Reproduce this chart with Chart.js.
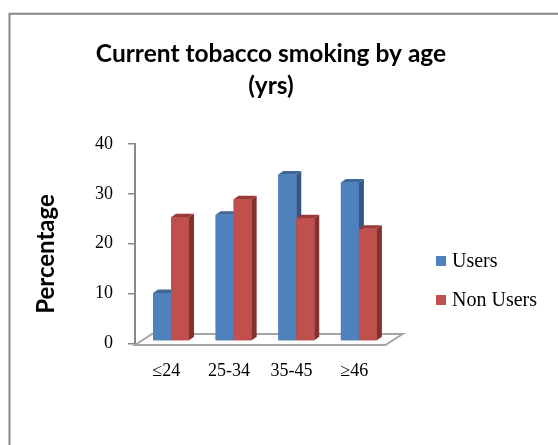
<!DOCTYPE html>
<html>
<head>
<meta charset="utf-8">
<title>Current tobacco smoking by age</title>
<script src="https://cdn.jsdelivr.net/npm/chart.js@4.4.1/dist/chart.umd.min.js"></script>
<style>
body{margin:0;background:#fff;}
#wrap{width:558px;height:445px;}
</style>
</head>
<body>
<div id="wrap"><canvas id="smokeChart" width="558" height="445"></canvas></div>
<script>
/* data */
const ageGroups = ["≤24","25-34","35-45","≥46"];
const users = [9.6,25.3,33.4,31.8];
const nonUsers = [24.8,28.4,24.6,22.5];
const yTicks = [0,10,20,30,40];
const seriesNames = ["Users","Non Users"];
const titleLines = ["Current tobacco smoking by age","(yrs)"];
const yTitle = "Percentage";

/* colours: front, side, top */
const faces = [
{front:"#4f81bd", side:"#34578a", top:"#3f6797"},
{front:"#c0504d", side:"#83302e", top:"#9c3a37"}
];

/* the bar row sits a little behind the front edge of the floor */
const ROW_X = 4.7, ROW_Y = -2.5;
/* depth of each bar */
const DEP_X = 5, DEP_Y = -3.5;
/* depth of the floor */
const FLOOR_X = 17, FLOOR_Y = -11;

const gray = "#878787";

function poly(ctx, pts){
ctx.beginPath();
ctx.moveTo(pts[0][0],pts[0][1]);
for(let i=1;i<pts.length;i++) ctx.lineTo(pts[i][0],pts[i][1]);
ctx.closePath();
}

const bars3d = {
id:"bars3d",

beforeDraw(chart){
const ctx = chart.ctx;
ctx.save();
ctx.fillStyle="#fff";
ctx.fillRect(0,0,chart.width,chart.height);
/* frame round the chart */
ctx.strokeStyle=gray;
ctx.lineWidth=2;
ctx.beginPath();
ctx.moveTo(9.5,chart.height);
ctx.lineTo(9.5,13.7);
ctx.lineTo(chart.width,13.7);
ctx.stroke();
ctx.restore();
},

beforeDatasetsDraw(chart){
/* floor */
const ctx = chart.ctx;
const a = chart.chartArea;
const fy = a.bottom+1.5;
ctx.save();
ctx.strokeStyle="#a5a5a5";
ctx.lineWidth=2;
ctx.fillStyle="#fff";
poly(ctx,[[a.left,fy],[a.right,fy],[a.right+FLOOR_X,fy+FLOOR_Y],[a.left+FLOOR_X,fy+FLOOR_Y]]);
ctx.fill();
ctx.stroke();
ctx.restore();
},

beforeDatasetDraw(chart){
chart.ctx.save();
chart.ctx.translate(ROW_X,ROW_Y);
},

afterDatasetDraw(chart){
chart.ctx.restore();
},

/* boxes go back to front, left to right, so each one hides the side of the one before */
afterDatasetsDraw(chart){
const ctx = chart.ctx;
ctx.save();
ctx.translate(ROW_X,ROW_Y);
const metas = chart.data.datasets.map((ds,i)=>chart.getDatasetMeta(i));
chart.data.labels.forEach((lab,j)=>{
metas.forEach((meta,i)=>{
const f = faces[i];
const p = meta.data[j].getProps(["x","y","base","width"],true);
const l = p.x-p.width/2, r = p.x+p.width/2;
ctx.fillStyle=f.front;
ctx.fillRect(l,p.y,p.width,p.base-p.y);
ctx.fillStyle=f.side;
poly(ctx,[[r,p.y],[r+DEP_X,p.y+DEP_Y],[r+DEP_X,p.base+DEP_Y],[r,p.base]]);
ctx.fill();
ctx.fillStyle=f.top;
poly(ctx,[[l,p.y],[l+DEP_X,p.y+DEP_Y],[r+DEP_X,p.y+DEP_Y],[r,p.y]]);
ctx.fill();
});
});
ctx.restore();
},

afterDraw(chart){
const ctx = chart.ctx;
ctx.save();

/* title */
ctx.fillStyle="#000";
ctx.font="bold 24.5px Lato";
ctx.textAlign="center";
ctx.textBaseline="alphabetic";
ctx.fillText(titleLines[0],271,62);
ctx.fillText(titleLines[1],271,94);

/* value axis title */
ctx.save();
ctx.translate(46,254);
ctx.rotate(-Math.PI/2);
ctx.font="bold 24px Lato";
ctx.textBaseline="middle";
ctx.fillText(yTitle,0,0);
ctx.restore();

/* legend */
ctx.textAlign="left";
ctx.textBaseline="middle";
ctx.font="20px 'Liberation Serif'";
const rows = [261,300];
chart.data.datasets.forEach((ds,i)=>{
ctx.fillStyle=ds.backgroundColor;
ctx.fillRect(436,rows[i]-5,10,10);
ctx.fillStyle="#000";
ctx.fillText(ds.label,452,rows[i]+1);
});

ctx.restore();
}
};

const ctx = document.getElementById("smokeChart");

new Chart(ctx,{
type:"bar",
data:{
labels:ageGroups,
datasets:[
{label:seriesNames[0], data:users, backgroundColor:faces[0].front},
{label:seriesNames[1], data:nonUsers, backgroundColor:faces[1].front}
]
},
options:{
responsive:false,
animation:false,
devicePixelRatio:1,
categoryPercentage:0.575,
barPercentage:1,
layout:{padding:{left:0,right:172.5,top:144,bottom:0}},
plugins:{
legend:{display:false},
title:{display:false},
tooltip:{enabled:false}
},
scales:{
x:{
grid:{display:false,drawTicks:false},
border:{display:false},
ticks:{color:"#000",padding:17,font:{family:"'Liberation Serif'",size:18}},
afterFit(s){ s.height=101.5; }
},
y:{
min:yTicks[0],
max:yTicks[yTicks.length-1],
grid:{drawOnChartArea:false,drawTicks:true,tickLength:7,color:gray,lineWidth:1.5},
border:{display:true,color:gray,width:2},
ticks:{stepSize:yTicks[1]-yTicks[0],color:"#000",padding:15,font:{family:"'Liberation Serif'",size:18}},
afterFit(s){ s.width=135; }
}
}
},
plugins:[bars3d]
});
</script>
</body>
</html>
